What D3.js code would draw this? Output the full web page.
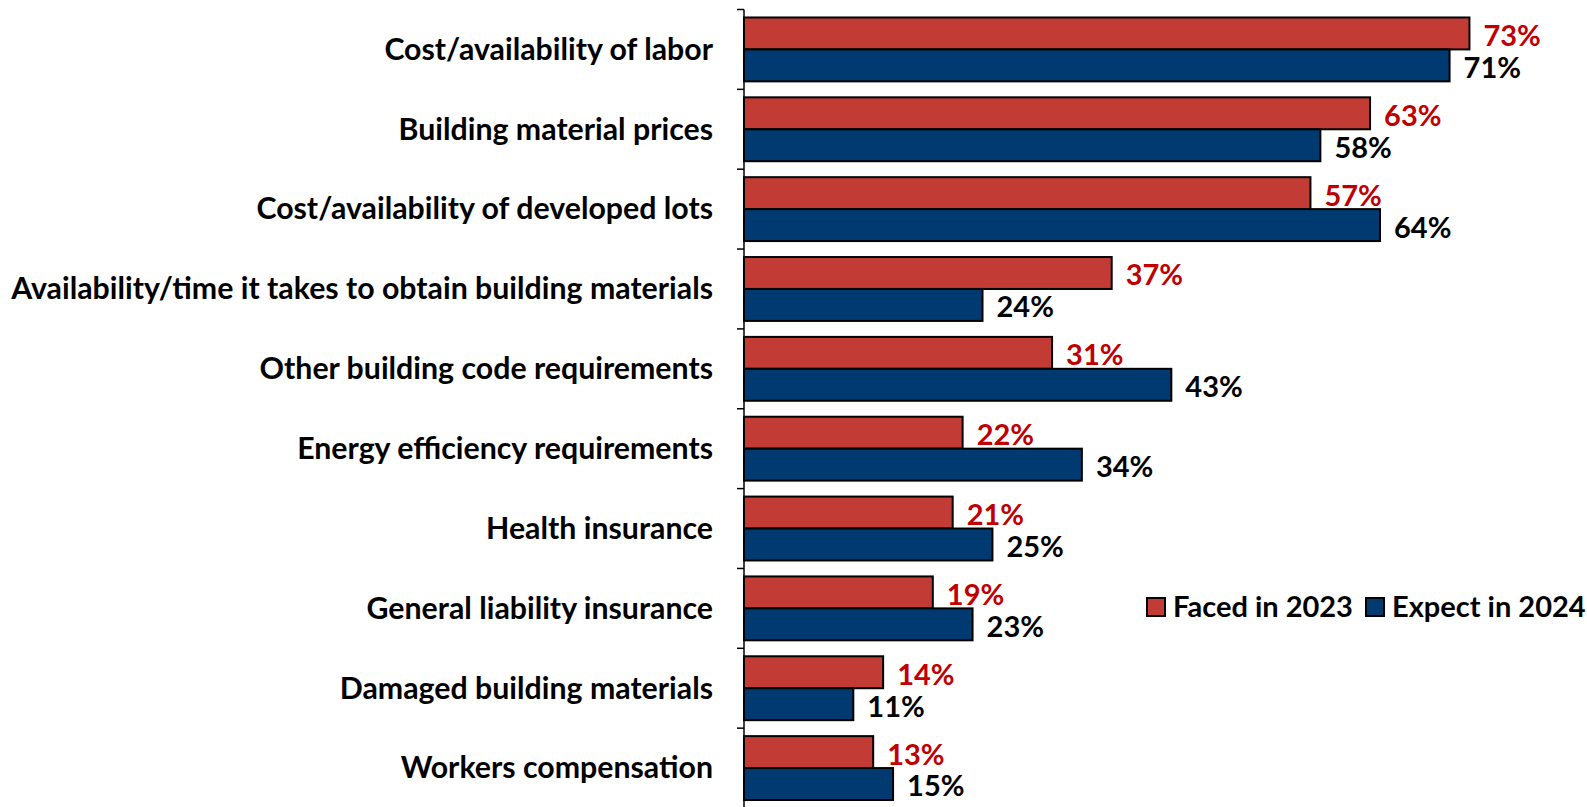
<!DOCTYPE html>
<html>
<head>
<meta charset="utf-8">
<script src="https://cdn.jsdelivr.net/npm/d3@7"></script>
<style>
  body { margin: 0; background: #fff; }
  svg text { font-family: Lato, 'Open Sans', sans-serif; font-weight: bold; }
</style>
</head>
<body>
<div class="svg-container"></div>
<script>
const categories = [
  'Cost/availability of labor',
  'Building material prices',
  'Cost/availability of developed lots',
  'Availability/time it takes to obtain building materials',
  'Other building code requirements',
  'Energy efficiency requirements',
  'Health insurance',
  'General liability insurance',
  'Damaged building materials',
  'Workers compensation'
];
const faced2023 = [73, 63, 57, 37, 31, 22, 21, 19, 14, 13];
const expect2024 = [71, 58, 64, 24, 43, 34, 25, 23, 11, 15];
const seriesNames = ['Faced in 2023', 'Expect in 2024'];

const outerWidth = 1587;
const outerHeight = 807;
const axisX = 744;

const svg = d3.select('.svg-container')
  .append('svg')
  .attr('width', outerWidth)
  .attr('height', outerHeight);

const xScale = d3.scaleLinear()
  .domain([0, 80])
  .range([axisX, axisX + 795]);

const yScale = d3.scaleBand()
  .domain(categories)
  .range([9.5, 808])
  .paddingInner(0.2)
  .paddingOuter(0.1);

const sub = d3.scaleBand()
  .domain(seriesNames)
  .range([0, yScale.bandwidth()]);

const colors = { 'Faced in 2023': '#c33b35', 'Expect in 2024': '#003a70' };
const labelColors = { 'Faced in 2023': '#c00000', 'Expect in 2024': '#000' };

const rows = categories.map((c, i) => ({
  cat: c,
  vals: [
    { s: seriesNames[0], v: faced2023[i] },
    { s: seriesNames[1], v: expect2024[i] }
  ]
}));

const groups = svg.selectAll('g.row')
  .data(rows)
  .enter()
  .append('g')
  .attr('class', 'row')
  .attr('transform', d => `translate(0, ${yScale(d.cat)})`);

groups.selectAll('rect')
  .data(d => d.vals)
  .enter()
  .append('rect')
  .attr('x', xScale(0))
  .attr('y', d => sub(d.s))
  .attr('width', d => xScale(d.v) - xScale(0))
  .attr('height', sub.bandwidth())
  .attr('fill', d => colors[d.s])
  .attr('stroke', '#000')
  .attr('stroke-width', 2);

groups.selectAll('text.val')
  .data(d => d.vals)
  .enter()
  .append('text')
  .attr('class', 'val')
  .attr('x', d => xScale(d.v) + 14)
  .attr('y', d => sub(d.s) + sub.bandwidth() / 2 + 2)
  .attr('dy', '0.36em')
  .style('font-size', '29px')
  .attr('fill', d => labelColors[d.s])
  .text(d => d.v + '%');

// category labels
svg.selectAll('text.cat')
  .data(categories)
  .enter()
  .append('text')
  .attr('class', 'cat')
  .attr('x', 713)
  .attr('y', d => yScale(d) + yScale.bandwidth() / 2)
  .attr('dy', '0.34em')
  .attr('text-anchor', 'end')
  .style('font-size', '30.3px')
  .attr('fill', '#000')
  .text(d => d);

// axis line with ticks at band boundaries
const step = yScale.step();
const y0 = yScale.range()[0];
const boundaries = d3.range(categories.length + 1).map(i => y0 + i * step);
svg.append('line')
  .attr('x1', axisX).attr('x2', axisX)
  .attr('y1', boundaries[0]).attr('y2', boundaries[boundaries.length - 1])
  .attr('stroke', '#000').attr('stroke-width', 1.5);
svg.selectAll('line.tick')
  .data(boundaries)
  .enter()
  .append('line')
  .attr('class', 'tick')
  .attr('x1', axisX - 7).attr('x2', axisX)
  .attr('y1', d => d).attr('y2', d => d)
  .attr('stroke', '#000').attr('stroke-width', 1.5);

// legend
const legend = svg.append('g').attr('id', 'legend');
const legendX = [1147, 1366];
seriesNames.forEach((s, i) => {
  const g = legend.append('g').attr('transform', `translate(${legendX[i]}, 607)`);
  g.append('rect')
    .attr('x', 0).attr('y', -9)
    .attr('width', 18).attr('height', 18)
    .attr('fill', colors[s])
    .attr('stroke', '#000').attr('stroke-width', 2);
  g.append('text')
    .attr('x', 26).attr('dy', '0.36em')
    .style('font-size', '29px')
    .attr('fill', '#000')
    .text(s);
});
</script>
</body>
</html>
